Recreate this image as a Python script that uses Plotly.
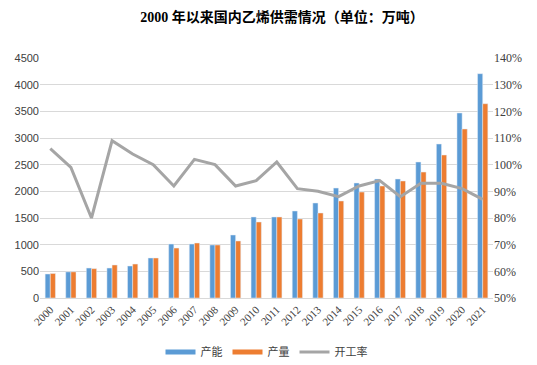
import plotly.graph_objects as go

years = [str(y) for y in range(2000, 2022)]
capacity = [450, 490, 562, 562, 600, 750, 1012, 1012, 994, 1181, 1519,
            1519, 1631, 1781, 2062, 2156, 2231, 2231, 2550, 2887, 3469, 4206]
output = [460, 490, 550, 619, 637, 750, 937, 1031, 994, 1069, 1425,
          1519, 1481, 1594, 1819, 1987, 2100, 2194, 2362, 2681, 3169, 3643]
utilization = [1.06, 0.99, 0.80, 1.09, 1.04, 1.00, 0.92, 1.02, 1.00, 0.92, 0.94,
               1.01, 0.91, 0.90, 0.88, 0.92, 0.94, 0.88, 0.93, 0.93, 0.91, 0.87]

BLUE = "#5B9BD5"
ORANGE = "#ED7D31"
GRAY = "#A5A5A5"

fig = go.Figure()
fig.add_trace(go.Bar(x=years, y=capacity, name="产能", marker_color=BLUE,
                     showlegend=False))
fig.add_trace(go.Bar(x=years, y=output, name="产量", marker_color=ORANGE,
                     showlegend=False))
fig.add_trace(go.Scatter(x=years, y=utilization, name="开工率", mode="lines",
                         line=dict(color=GRAY, width=3), yaxis="y2",
                         showlegend=False))
# legend entries (line-style swatches like the original)
for nm, c in [("产能", BLUE), ("产量", ORANGE), ("开工率", GRAY)]:
    fig.add_trace(go.Scatter(x=[None], y=[None], name=nm, mode="lines",
                             line=dict(color=c, width=5 if c != GRAY else 3)))

# the page body adds an 8px offset, so the figure is 8px smaller
fig.update_layout(
    width=529, height=357, autosize=False,
    margin=dict(l=32, r=44, t=50, b=67, autoexpand=False),
    paper_bgcolor="white", plot_bgcolor="white",
    barmode="group", bargap=0.5, bargroupgap=0,
    title=dict(text="<b>2000 年以来国内乙烯供需情况（单位：万吨）</b>",
               x=0.518, xanchor="center", y=0.975, yanchor="middle",
               font=dict(family="Liberation Serif, Noto Sans CJK SC", size=14,
                         color="#000000")),
    xaxis=dict(type="category", tickangle=-45, showgrid=False, automargin=False,
               showline=True, linecolor="#D9D9D9", linewidth=1, ticks="",
               tickfont=dict(family="Liberation Serif", size=11, color="#404040")),
    yaxis=dict(range=[0, 4500], dtick=500, showgrid=True, gridcolor="#D9D9D9",
               zeroline=False, ticks="", automargin=False,
               tickfont=dict(family="Liberation Sans", size=11, color="#404040")),
    yaxis2=dict(range=[0.5, 1.4], dtick=0.1, tickformat=".0%", overlaying="y",
                side="right", showgrid=False, zeroline=False, ticks="",
                automargin=False,
                tickfont=dict(family="Liberation Serif", size=12, color="#404040")),
    legend=dict(orientation="h", x=0.5, xanchor="center", y=-0.225,
                yanchor="middle",
                font=dict(family="Noto Sans CJK SC", size=11, color="#404040"),
                itemwidth=30, tracegroupgap=0),
)

fig.write_html("out.html")
